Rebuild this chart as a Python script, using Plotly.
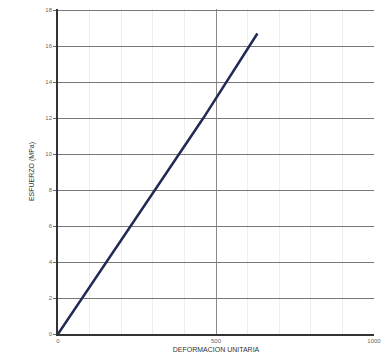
import plotly.graph_objects as go

# datos
deformacion = [0, 153, 305, 460, 631]
esfuerzo = [0, 4.0, 8.0, 12.0, 16.7]
y_ticks = [0, 2, 4, 6, 8, 10, 12, 14, 16, 18]
x_ticks = [0, 500, 1000]

fig = go.Figure()

fig.add_trace(go.Scatter(
    x=deformacion,
    y=esfuerzo,
    mode='lines',
    line=dict(color='#1f2a55', width=2.5),
    showlegend=False
))

fig.update_layout(
    width=384,
    height=363,
    margin=dict(l=58, r=10, t=9, b=29),
    plot_bgcolor='white',
    paper_bgcolor='white',
    font=dict(family='Liberation Sans', color='#666666', size=6),
    xaxis=dict(
        range=[0, 1000],
        tickvals=x_ticks,
        ticklabeloverflow='allow',
        automargin=False,
        showgrid=True,
        gridcolor='#8a8a8a',
        gridwidth=1,
        minor=dict(dtick=100, showgrid=True, gridcolor='#eeeeee'),
        showline=True,
        linecolor='#333333',
        linewidth=1.5,
        zeroline=False,
        ticks='',
        tickfont=dict(size=6),
        title=dict(text='DEFORMACION UNITARIA', font=dict(size=7, color='#333333'), standoff=4)
    ),
    yaxis=dict(
        # un poco por encima de 18 para que se vea la línea de rejilla superior
        range=[0, 18.06],
        tickvals=y_ticks,
        ticklabeloverflow='allow',
        automargin=False,
        showgrid=True,
        gridcolor='#777777',
        gridwidth=1,
        showline=True,
        linecolor='#333333',
        linewidth=1.5,
        zeroline=False,
        ticks='outside',
        ticklen=3,
        tickcolor='#666666',
        tickfont=dict(size=6),
        title=dict(text='ESFUERZO (MPa)', font=dict(size=7, color='#333333'), standoff=10)
    )
)

# quitar el margen por defecto del body para que la figura empiece en 0,0
fig.write_html("out.html", config={'displayModeBar': False},
               post_script="document.body.style.margin='0';")
